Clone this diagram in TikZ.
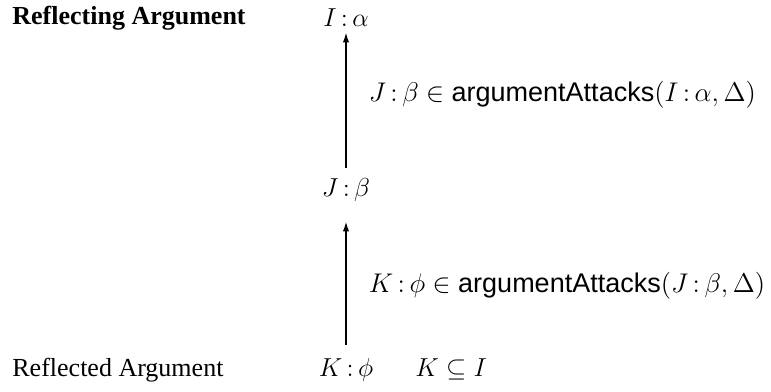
\RequirePackage{fix-cm}
\documentclass[tikz,border=0pt]{standalone}
\usepackage{fontspec}
\setmainfont{Liberation Serif}
\setsansfont{Liberation Sans}
\usetikzlibrary{arrows.meta, positioning}

\newcommand{\argAttacks}{\textsf{argumentAttacks}}

\begin{document}
\begin{tikzpicture}[
    x=0.5pt, y=-0.5pt,
    font=\fontsize{13}{15}\selectfont,
    argnode/.style={inner sep=0pt, anchor=base},
    side/.style={inner sep=0pt, anchor=base west},
    arrow/.style={-{Latex[length=5pt, width=3.2pt]}, line width=0.8pt},
    attack/.style={right=11pt, inner sep=0pt, font=\fontsize{13.5}{16}\selectfont}
  ]
    \useasboundingbox (0,0) rectangle (771,391);
    \node[argnode] (ia) at (346,26) {$I\,{:}\,\alpha$};
    \node[argnode] (jb) at (346,196) {$J\,{:}\,\beta$};
    \node[argnode] (kp) at (346,376) {$K\,{:}\,\phi$};
    \node[side] (reflecting) at (12,25) {\textbf{Reflecting Argument}};
    \node[side] (reflected) at (12,376) {Reflected Argument};
    \node[side] (subset) at (415,376) {$K \subseteq I$};
    \draw[arrow, shorten <=5pt, shorten >=3pt] (jb.north) -- node[attack, pos=0.55] {$J\,{:}\,\beta \in \argAttacks(I\,{:}\,\alpha, \Delta)$} (ia.south);
    \draw[arrow, shorten <=6.5pt, shorten >=10pt] (kp.north) -- node[attack, pos=0.46] {$K\,{:}\,\phi \in \argAttacks(J\,{:}\,\beta, \Delta)$} (jb.south);
  \end{tikzpicture}
\end{document}
